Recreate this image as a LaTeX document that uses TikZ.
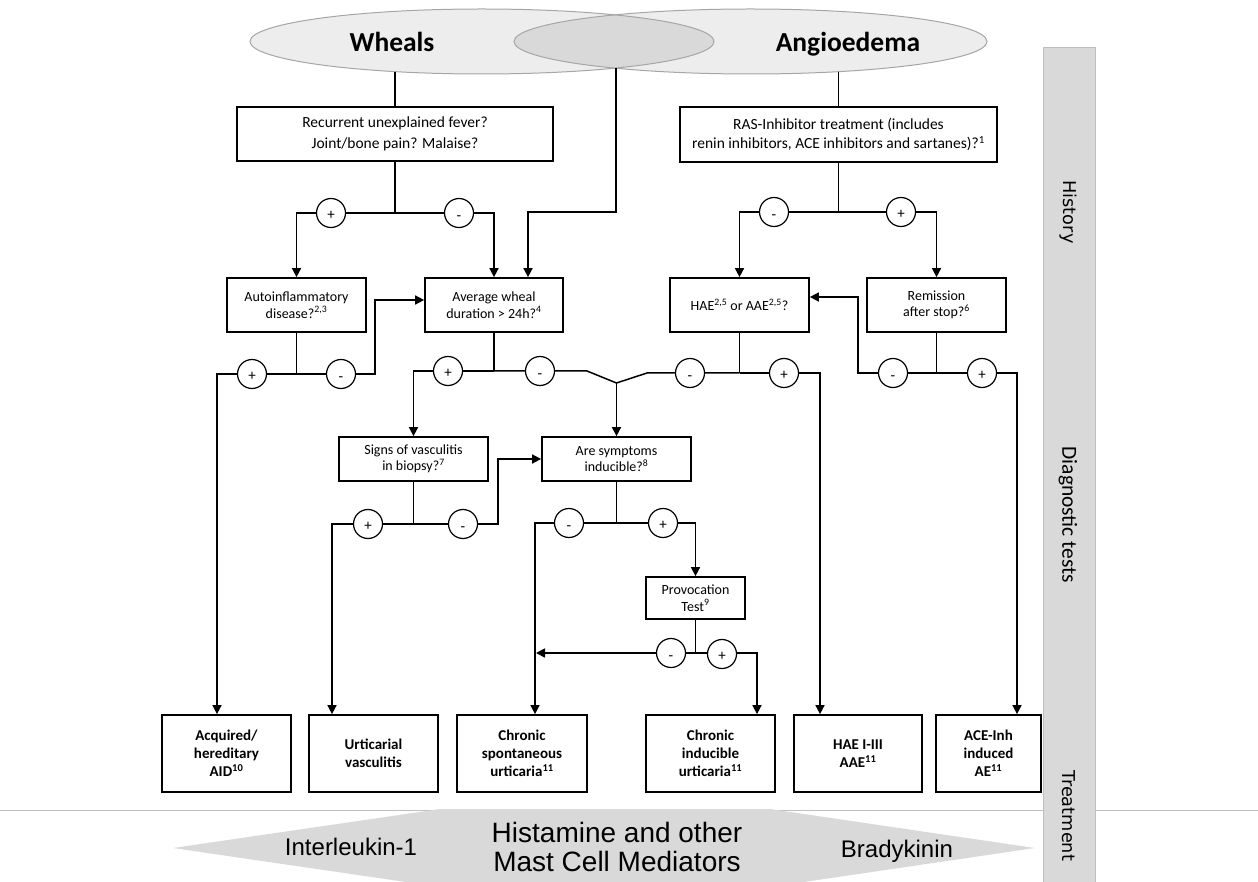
\documentclass[tikz,border=0pt]{standalone}
\usepackage{fontspec}
\setmainfont{Carlito}
\newfontfamily\arialfont{Liberation Sans}
\newfontfamily\dejavufont{DejaVu Sans}
\usetikzlibrary{arrows.meta, positioning, calc}
\definecolor{lobefill}{HTML}{EDEDED}
\definecolor{lensfill}{HTML}{D9D9D9}
\definecolor{lobeline}{HTML}{A6A6A6}
\definecolor{barfill}{HTML}{D9D9D9}
\definecolor{rulegray}{HTML}{BFBFBF}
\newcommand{\minussign}{\raisebox{-1pt}{-}}
\tikzset{
  qbox/.style={rectangle, draw=black, line width=1.7pt, fill=white, align=center,
               inner sep=0pt, font=\fontsize{14}{16.5}\selectfont},
  dbox/.style={qbox, font=\fontsize{15}{18}\selectfont\bfseries,
               minimum width=129pt, minimum height=77pt},
  pm/.style={circle, draw=black, line width=1.2pt, fill=white, minimum size=29pt,
             inner sep=0pt, text height=13.5pt, text depth=0pt, font=\fontsize{15}{15}\selectfont},
  flow/.style={-{Triangle[length=9pt, width=9pt]}, line width=1.5pt},
  link/.style={line width=1.5pt},
  lobe/.style={draw=lobeline, line width=1pt},
  side/.style={rotate=-90, font=\dejavufont\fontsize{17.7}{20}\selectfont},
  mediator/.style={font=\arialfont\fontsize{24}{28}\selectfont}
}

\begin{document}
\begin{tikzpicture}[x=1pt, y=-1pt]
  \useasboundingbox (0,0) rectangle (1258,882);

  \draw[rulegray, line width=1pt] (0,810) -- (1258,810);
  \fill[barfill] (173,848) -- (440,809) -- (770,809) -- (1035,848) -- (770,887) -- (440,887) -- cycle;
  \draw[rulegray, fill=barfill, line width=0.8pt] (1043,882) -- (1043,47) -- (1095,47) -- (1095,882);

  \fill[lobefill] (482,41.5) ellipse [x radius=232, y radius=32.5];
  \fill[lobefill] (750.5,41.5) ellipse [x radius=236.5, y radius=32.5];
  \begin{scope}
    \clip (482,41.5) ellipse [x radius=232, y radius=32.5];
    \fill[lensfill] (750.5,41.5) ellipse [x radius=236.5, y radius=32.5];
  \end{scope}
  \draw[lobe] (482,41.5) ellipse [x radius=232, y radius=32.5];
  \draw[lobe] (750.5,41.5) ellipse [x radius=236.5, y radius=32.5];
  \node[anchor=base, font=\fontsize{27.5}{30}\selectfont\bfseries] (wheals) at (392,51.7) {Wheals};
  \node[anchor=base, font=\fontsize{27.5}{30}\selectfont\bfseries] (angio) at (848,51.7) {Angioedema};

  \node[side] (history) at (1068,212) {History};
  \node[side, font=\fontsize{21.5}{24}\selectfont] (diagn) at (1068,515) {Diagnostic tests};
  \node[side] (treat) at (1069,816) {Treatment};

  \node[mediator] (il) at (351,847) {Interleukin-1};
  \node[mediator, align=center, font=\arialfont\fontsize{28}{29}\selectfont] (hist) at (617,846.5) {Histamine and other\\Mast Cell Mediators};
  \node[mediator, anchor=base] (brady) at (897,857) {Bradykinin};

  \node[qbox, minimum width=316pt, minimum height=54pt, font=\fontsize{15.5}{21.5}\selectfont] (fever) at (395,134) {Recurrent unexplained fever?\\Joint/bone pain? Malaise?};
  \node[qbox, minimum width=317pt, minimum height=55pt, font=\fontsize{15.5}{18.5}\selectfont] (ras) at (838.5,134.5) {RAS-Inhibitor treatment (includes\\renin inhibitors, ACE inhibitors and sartanes)?\textsuperscript{1}};
  \node[qbox, minimum width=139pt, minimum height=54pt] (autoinf) at (296.5,305) {Autoinflammatory\\disease?\textsuperscript{2,3}};
  \node[qbox, minimum width=138pt, minimum height=54pt] (avgdur) at (494,305) {Average wheal\\duration > 24h?\textsuperscript{4}};
  \node[qbox, minimum width=139pt, minimum height=54pt] (haeq) at (739.5,305) {HAE\textsuperscript{2,5} or AAE\textsuperscript{2,5}?};
  \node[qbox, minimum width=139pt, minimum height=54pt] (remis) at (936.5,305) {Remission\\after stop?\textsuperscript{6}};
  \node[qbox, minimum width=149pt, minimum height=44pt] (signs) at (413.5,459) {Signs of vasculitis\\in biopsy?\textsuperscript{7}};
  \node[qbox, minimum width=149pt, minimum height=44pt] (induc) at (616.5,459) {Are symptoms\\inducible?\textsuperscript{8}};
  \node[qbox, minimum width=99pt, minimum height=42pt] (provo) at (695.5,598) {Provocation\\Test\textsuperscript{9}};

  \node[dbox] (aid) at (226.5,753.5) {Acquired/\\hereditary\\AID\textsuperscript{10}};
  \node[dbox] (uv) at (373.5,753.5) {Urticarial\\vasculitis};
  \node[dbox, minimum width=130pt] (csu) at (522,753.5) {Chronic\\spontaneous\\urticaria\textsuperscript{11}};
  \node[dbox] (ciu) at (710.5,753.5) {Chronic\\inducible\\urticaria\textsuperscript{11}};
  \node[dbox, minimum width=128pt] (haebox) at (858,753.5) {HAE I-III\\AAE\textsuperscript{11}};
  \node[dbox, minimum width=105pt] (ace) at (988.5,753.5) {ACE-Inh\\induced\\AE\textsuperscript{11}};

  \coordinate (wtap) at (395,71.6);
  \coordinate (mtap) at (616,68);
  \coordinate (atap) at (838.5,71.7);
  \coordinate (mturn) at (616,212);
  \coordinate (fsplit) at (395,213);
  \coordinate (rsplit) at (838.5,212);
  \coordinate (asplit) at (296.5,374);
  \coordinate (aleft) at (217,374);
  \coordinate (aturn) at (375,374);
  \coordinate (dsplit) at (494,371);
  \coordinate (dleft) at (413.5,371);
  \coordinate (dright) at (587,371);
  \coordinate (vee) at (616.5,383);
  \coordinate (hleft) at (647,373);
  \coordinate (hsplit) at (739.5,373);
  \coordinate (hright) at (820,373);
  \coordinate (xsplit) at (936.5,373);
  \coordinate (xleft) at (858,373);
  \coordinate (xright) at (1017,373);
  \coordinate (ssplit) at (413.5,524);
  \coordinate (sleft) at (332,524);
  \coordinate (sright) at (498,524);
  \coordinate (isplit) at (616.5,523);
  \coordinate (ileft) at (535,523);
  \coordinate (iright) at (695.5,523);
  \coordinate (psplit) at (695.5,653);
  \coordinate (pright) at (757,653);
  \coordinate (cjoin) at (536,653);

  \draw[link] (wtap) -- (fever.north);
  \draw[link] (atap) -- (ras.north);
  \draw[flow] (mtap) -- (mturn) -| ([xshift=34pt]avgdur.north);
  \draw[link] (fever.south) -- (fsplit);
  \draw[flow] (fsplit) -| (autoinf.north);
  \draw[flow] (fsplit) -| (avgdur.north);
  \draw[link] (ras.south) -- (rsplit);
  \draw[flow] (rsplit) -| (haeq.north);
  \draw[flow] (rsplit) -| (remis.north);
  \draw[link] (autoinf.south) -- (asplit);
  \draw[flow] (asplit) -- (aleft) -- (aleft |- aid.north);
  \draw[flow] (asplit) -- (aturn) |- ([yshift=5pt]avgdur.west);
  \draw[link] (avgdur.south) -- (dsplit);
  \draw[flow] (dsplit) -- (dleft) -- (signs.north);
  \draw[link] (dsplit) -- (dright) -- (vee) -- (hleft) -- (hsplit);
  \draw[flow] (vee) -- (induc.north);
  \draw[link] (haeq.south) -- (hsplit);
  \draw[flow] (hsplit) -- (hright) -- (hright |- haebox.north);
  \draw[link] (remis.south) -- (xsplit);
  \draw[flow] (xsplit) -- (xleft) |- ([yshift=8pt]haeq.east);
  \draw[flow] (xsplit) -- (xright) -- (xright |- ace.north);
  \draw[link] (signs.south) -- (ssplit);
  \draw[flow] (ssplit) -- (sleft) -- (sleft |- uv.north);
  \draw[flow] (ssplit) -- (sright) |- (induc.west);
  \draw[link] (induc.south) -- (isplit);
  \draw[flow] (isplit) -- (ileft) -- (ileft |- csu.north);
  \draw[flow] (isplit) -- (iright) -- (provo.north);
  \draw[link] (provo.south) -- (psplit);
  \draw[flow] (psplit) -- (cjoin);
  \draw[flow] (psplit) -- (pright) -- (pright |- ciu.north);

  \node[pm] (fp) at (331,213) {+};
  \node[pm] (fm) at (459,213) {\minussign};
  \node[pm] (rm) at (774,212) {\minussign};
  \node[pm] (rp) at (901,212) {+};
  \node[pm] (ap) at (252,374) {+};
  \node[pm] (am) at (341,374) {\minussign};
  \node[pm] (dp) at (448,371) {+};
  \node[pm] (dm) at (540,371) {\minussign};
  \node[pm] (hm) at (690,373) {\minussign};
  \node[pm] (hp) at (784,373) {+};
  \node[pm] (xm) at (893,373) {\minussign};
  \node[pm] (xp) at (982,373) {+};
  \node[pm] (sp) at (368,524) {+};
  \node[pm] (sm) at (463,524) {\minussign};
  \node[pm] (im) at (569,523) {\minussign};
  \node[pm] (ip) at (663,523) {+};
  \node[pm] (pmn) at (671,653) {\minussign};
  \node[pm] (pp) at (722,654) {+};
\end{tikzpicture}
\end{document}
